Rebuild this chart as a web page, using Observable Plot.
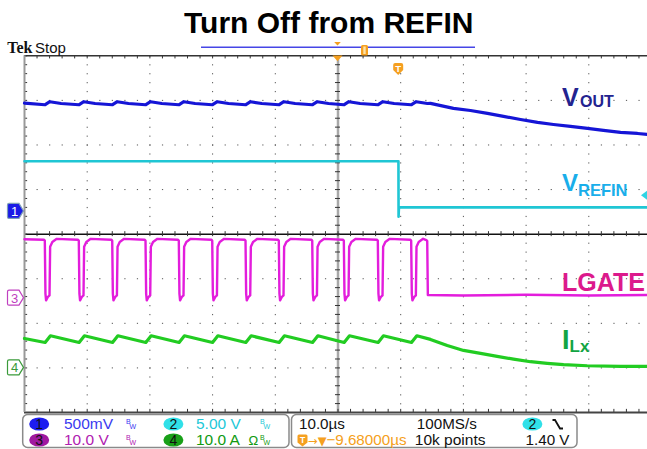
<!DOCTYPE html>
<html><head><meta charset="utf-8">
<script src="https://cdn.jsdelivr.net/npm/d3@7"></script>
<script src="https://cdn.jsdelivr.net/npm/@observablehq/plot@0.6"></script>
<style>
html,body{margin:0;padding:0;background:#fff;overflow:hidden}
#chart svg{display:block}
</style></head><body><div id="chart"></div>
<script>
// ---------------- data ----------------
const title = "Turn Off from REFIN";
const channelIds = ["1", "2", "3", "4"];
const channelScale = [0.5, 5, 10, 10];        // units per division
const channelGround = [0.51, 0.58, -1.435, -3.0]; // ground position, divisions from centre
const scaleLabels = ["500mV", "5.00 V", "10.0 V", "10.0 A"];
const timebaseLabel = "10.0µs";
const sampleRateLabel = "100MS/s";
const recordLabel = "10k points";
const triggerDelayLabel = "−9.68000µs";
const triggerLevel = 1.40;
const triggerLevelLabel = "1.40 V";
const triggerTime = 9.68; // µs after screen centre

// LGATE falling edges (µs, relative to screen centre)
const lgatePulseStart = [-46.76, -41.34, -36.01, -30.70, -25.39, -20.06, -14.75, -9.44, -4.11, 0.93, 6.35, 11.67];

// VOUT (V)
const voutStart = [-50, 1.215];
const voutRippleDt = [0, 0.8, 2.6];
const voutRippleV = [1.196, 1.230, 1.210];
const voutTailT = [14.75, 18.42, 21.13, 23.84, 26.40, 29.11, 31.82, 34.37, 37.08, 39.79, 42.34, 45.06, 47.77, 50];
const voutTailV = [1.211, 1.155, 1.132, 1.099, 1.065, 1.031, 0.998, 0.975, 0.953, 0.931, 0.908, 0.886, 0.874, 0.860];

// VREFIN (V)
const refinT = [-50, 9.64, 9.66, 9.72, 50];
const refinV = [5.27, 5.27, -0.95, 0.10, 0.10];

// LGATE (V)
const lgateStart = [-50, 13.2];
const lgatePulseDt = [-0.15, 0, 0.1, 0.2, 0.5, 0.75, 0.85, 1.2, 1.9];
const lgatePulseV = [13.1, 12.9, 1.0, -0.5, 0.3, 0.6, 11.5, 12.6, 13.3];
const lgateTailT = [14.10, 14.23, 14.33, 20, 30, 40, 50];
const lgateTailV = [13.0, 12.8, 0.7, 0.6, 0.75, 0.6, 0.7];

// ILx (A)
const ilxStart = [-50, 6.6];
const ilxRippleDt = [0.05, 0.9];
const ilxRippleV = [5.7, 7.2];
const ilxTailT = [14.75, 17.42, 20.02, 22.73, 25.39, 27.99, 30.70, 33.37, 35.97, 39.74, 45.06, 50];
const ilxTailV = [6.39, 5.04, 3.92, 3.25, 2.58, 1.97, 1.39, 1.01, 0.72, 0.49, 0.34, 0.34];

// ---------------- build ----------------
function periodic(start, dts, vs, tailT, tailV) {
  const pts = [{t: start[0], v: start[1]}];
  for (const p of lgatePulseStart) dts.forEach((dt, i) => pts.push({t: p + dt, v: vs[i]}));
  tailT.forEach((t, i) => pts.push({t, v: tailV[i]}));
  return pts;
}
const voutPts = periodic(voutStart, voutRippleDt, voutRippleV, voutTailT, voutTailV);
const refinPts = refinT.map((t, i) => ({t, v: refinV[i]}));
const lgatePts = periodic(lgateStart, lgatePulseDt, lgatePulseV, lgateTailT, lgateTailV);
const ilxPts = periodic(ilxStart, ilxRippleDt, ilxRippleV, ilxTailT, ilxTailV);

const toDiv = (ch, v) => channelGround[ch] + v / channelScale[ch];
const W = 647, H = 449;
const X0 = 24, X1 = 651, Y0 = 55.3, Y1 = 412;
const px2t = px => -50 + (px - X0) / (X1 - X0) * 100;
const py2d = py => 4 - (py - Y0) / (Y1 - Y0) * 8;
const F = "Liberation Sans, Arial, sans-serif";

const traces = [
  {ch: 1, pts: refinPts, color: "#1fc6d4", w: 2.6},
  {ch: 0, pts: voutPts, color: "#1515d6", w: 3.2},
  {ch: 2, pts: lgatePts, color: "#e31ddc", w: 2.4},
  {ch: 3, pts: ilxPts, color: "#22cc22", w: 3.2}
];

const gridT = [-40, -30, -20, -10, 10, 20, 30, 40];
const gridD = [-3, -2, -1, 1, 2, 3];
const minorT = d3.range(-50, 50.001, 2);
const minorD = d3.range(-4, 4.001, 0.2);

const labels = [
  {x: 561.5, y: 105, text: "V", size: 25, color: "#23238f"},
  {x: 579.5, y: 106.5, text: "OUT", size: 16, color: "#23238f"},
  {x: 561.5, y: 190, text: "V", size: 24, color: "#1aaeea"},
  {x: 577.5, y: 195, text: "REFIN", size: 16.5, color: "#1aaeea"},
  {x: 561.5, y: 290, text: "LGATE", size: 25, color: "#dc1a8c"},
  {x: 561.5, y: 348, text: "I", size: 27, color: "#12a443"},
  {x: 569, y: 351, text: "Lx", size: 17, color: "#12a443"}
];

const marks = [
  Plot.ruleX(gridT, {stroke: "#555", strokeWidth: 1, strokeDasharray: "1.2,7.72"}),
  Plot.ruleY(gridD, {stroke: "#555", strokeWidth: 1, strokeDasharray: "1.2,11.34"}),
  Plot.ruleX([0], {stroke: "#a8a8a8", strokeWidth: 2.5}),
  Plot.ruleY([0], {stroke: "#111", strokeWidth: 1.5}),
  Plot.ruleX(minorT, {y1: -0.056, y2: 0.056, stroke: "#333"}),
  Plot.ruleY(minorD, {x1: -0.4, x2: 0.4, stroke: "#333"}),
  Plot.ruleX(minorT, {y1: 4, y2: 3.93, stroke: "#333"}),
  Plot.ruleX(minorT, {y1: -4, y2: -3.93, stroke: "#333"}),
  Plot.ruleY(minorD, {x1: -50, x2: -49.5, stroke: "#333"}),
  Plot.ruleY([4], {stroke: "#333", strokeWidth: 1.5}),
  Plot.ruleY([-4], {stroke: "#444", strokeWidth: 2}),
  Plot.ruleX([-50], {stroke: "#999", strokeWidth: 2})
];
for (const tr of traces) {
  marks.push(Plot.line(tr.pts, {x: "t", y: d => toDiv(tr.ch, d.v), stroke: tr.color, strokeWidth: tr.w, strokeLinejoin: "round"}));
}
for (const l of labels) {
  marks.push(Plot.text([l], {x: d => px2t(d.x), y: d => py2d(d.y), text: "text", fill: l.color,
    fontSize: l.size, fontWeight: "bold", fontFamily: F, textAnchor: "start", lineAnchor: "bottom"}));
}

const chart = Plot.plot({
  width: W, height: H,
  marginLeft: X0, marginRight: 0, marginTop: Y0, marginBottom: H - Y1,
  x: {domain: [-50, 50], range: [X0, X1], axis: null},
  y: {domain: [-4, 4], range: [Y1, Y0], axis: null},
  style: {background: "white", fontFamily: F, overflow: "hidden"},
  marks
});
document.getElementById("chart").appendChild(chart);

// ---------------- scope chrome ----------------
const xs = chart.scale("x"), ys = chart.scale("y");
const svg = d3.select(chart);
const g = svg.append("g").attr("text-anchor", "start");
const orange = "#f5a020";
const T = (x, y, s, fill, txt, extra = {}) => {
  const el = g.append("text").attr("x", x).attr("y", y).attr("font-family", extra.family || F)
    .attr("font-size", s).attr("fill", fill).attr("text-anchor", extra.anchor || "start").text(txt);
  if (extra.weight) el.attr("font-weight", extra.weight);
  return el;
};

T(328.7, 33.3, 30, "#000", title, {anchor: "middle", weight: "bold"});
T(7.3, 52.5, 16, "#111", "Tek", {family: "Liberation Serif, serif", weight: "bold"});
T(35, 52.5, 15, "#111", "Stop");

// record bar
g.append("line").attr("x1", 201).attr("x2", 475).attr("y1", 47.3).attr("y2", 47.3).attr("stroke", "#4646e6").attr("stroke-width", 1.5);
const cx = xs.apply(0);
g.append("path").attr("d", `M${cx - 3.3},42 h6.6 l-3.3,3.6 z`).attr("fill", orange);
g.append("rect").attr("x", 361).attr("y", 45).attr("width", 7).attr("height", 10.5).attr("rx", 1.5).attr("fill", orange);
g.append("rect").attr("x", 363.3).attr("y", 46.5).attr("width", 2.4).attr("height", 7.5).attr("fill", "#fde2a8");
g.append("path").attr("d", `M${cx - 5},55.6 h10 l-5,5.6 z`).attr("fill", orange);
// trigger T badge
const tx = xs.apply(triggerTime);
g.append("path").attr("d", `M${tx - 5},65 q0,-2 2,-2 h6 q2,0 2,2 v5 l-5,5 l-5,-5 z`).attr("fill", orange);
T(tx, 71.5, 9.5, "#fff", "T", {anchor: "middle", weight: "bold"});
// trigger level arrow
const ty = ys.apply(toDiv(1, triggerLevel));
g.append("path").attr("d", `M641,${ty} l6,-4.5 v9 z`).attr("fill", "#30d4e4");

// channel ground markers
function badge(ch, fill, stroke, txt) {
  const y = ys.apply(channelGround[ch]);
  g.append("path").attr("d", `M9,${y - 7.5} h10 l4.5,7.5 l-4.5,7.5 h-10 q-1.5,0 -1.5,-1.5 v-12 q0,-1.5 1.5,-1.5 z`)
    .attr("fill", fill).attr("stroke", stroke).attr("stroke-width", 1.2);
  T(14.5, y + 5, 13, txt, channelIds[ch], {anchor: "middle"});
}
badge(0, "#1a1ae6", "#7f9fb8", "#fff");
badge(2, "#fff", "#c040c0", "#c040c0");
badge(3, "#fff", "#3a9a3a", "#3a9a3a");

// bottom status panel
g.append("rect").attr("x", 22.7).attr("y", 414.5).attr("width", 266.3).attr("height", 33).attr("rx", 5)
  .attr("fill", "#fff").attr("stroke", "#8a8a8a").attr("stroke-width", 1.5);
g.append("rect").attr("x", 291.5).attr("y", 414.5).attr("width", 285.5).attr("height", 33).attr("rx", 5)
  .attr("fill", "#fff").attr("stroke", "#8a8a8a").attr("stroke-width", 1.5);

const ovalFill = ["#1c1cf0", "#30e0e8", "#a018a0", "#18a018"];
const textCol = ["#3a3af0", "#22c8d8", "#b020b0", "#109a10"];
const slots = [[39.2, 424, 64], [173.4, 424, 196], [39.2, 440, 64], [173.4, 440, 196]];
const bwX = [126, 260, 126, 260];
function oval(cxp, cyp, fill, label) {
  g.append("ellipse").attr("cx", cxp).attr("cy", cyp).attr("rx", 10).attr("ry", 6.6).attr("fill", fill);
  T(cxp, cyp + 5, 14, "#111", label, {anchor: "middle"});
}
channelIds.forEach((id, i) => {
  const [ox, oy, tx0] = slots[i];
  oval(ox, oy, ovalFill[i], id);
  T(tx0, oy + 5.3, 15.5, textCol[i], scaleLabels[i]);
  const bx = bwX[i];
  T(bx, oy - 0.5, 7, textCol[i], "B");
  T(bx + 3.5, oy + 4.5, 7, textCol[i], "W");
  if (i === 3) T(248.5, oy + 5.3, 13, textCol[i], "Ω");
});

T(299, 429.3, 15.2, "#111", timebaseLabel);
T(416.8, 429.3, 15.2, "#111", sampleRateLabel);
oval(532.4, 424, ovalFill[1], channelIds[1]);
g.append("path").attr("d", "M552.5,420 h2.5 L560,428.5 h3").attr("fill", "none").attr("stroke", "#111").attr("stroke-width", 1.8);

g.append("path").attr("d", "M297.5,436 q0,-1.5 1.5,-1.5 h7 q1.5,0 1.5,1.5 v6.5 l-5,4 l-5,-4 z").attr("fill", orange);
T(302.5, 443, 8.5, "#fff", "T", {anchor: "middle", weight: "bold"});
T(308, 444.5, 11.5, orange, "→▼", {family: "DejaVu Sans, sans-serif"});
T(406.5, 445.3, 15.2, orange, triggerDelayLabel, {anchor: "end"});
T(414.8, 445.3, 15.5, "#111", recordLabel);
T(569.5, 445.3, 15.2, "#111", triggerLevelLabel, {anchor: "end"});
</script>
</body></html>
